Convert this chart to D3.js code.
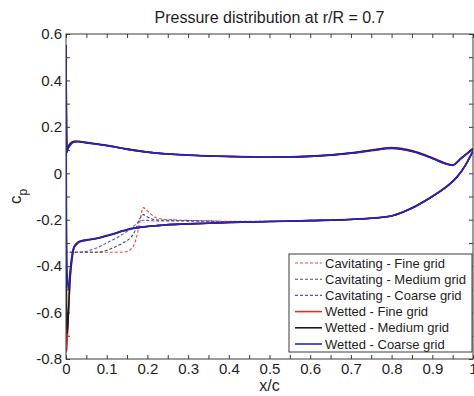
<!DOCTYPE html>
<html>
<head>
<meta charset="utf-8">
<script src="https://cdn.jsdelivr.net/npm/d3@7"></script>
<style>
  body { margin: 0; background: #fff; }
  svg { display: block; font-family: "Liberation Sans", Arial, Helvetica, sans-serif; }
</style>
</head>
<body>
<svg id="chart" width="474" height="396"></svg>
<script>
// Chordwise stations (x/c) for the pressure side and suction side
const xUpper = [0, 0.002, 0.005, 0.01, 0.015, 0.02, 0.03, 0.05, 0.08, 0.1, 0.15, 0.2, 0.25, 0.3,
                0.4, 0.5, 0.6, 0.7, 0.75, 0.8, 0.85, 0.9, 0.93, 0.95, 0.97, 1.0];
const xLower = [0, 0.001, 0.003, 0.006, 0.01, 0.015, 0.02, 0.03, 0.04, 0.05, 0.06, 0.08, 0.1, 0.12,
                0.14, 0.15, 0.16, 0.17, 0.18, 0.19, 0.2, 0.21, 0.22, 0.24, 0.27, 0.3, 0.35, 0.4,
                0.5, 0.6, 0.7, 0.75, 0.8, 0.83, 0.86, 0.9, 0.93, 0.96, 0.98, 1.0];

// Pressure side cp per grid (same for wetted and cavitating runs)
const upperFine   = [0.55, 0.1, 0.115, 0.128, 0.135, 0.138, 0.138, 0.133, 0.126, 0.121, 0.105, 0.092, 0.084, 0.079,
                     0.073, 0.07, 0.074, 0.088, 0.1, 0.111, 0.098, 0.067, 0.045, 0.036, 0.064, 0.107];
const upperMedium = [0.55, 0.095, 0.11, 0.125, 0.133, 0.137, 0.137, 0.132, 0.125, 0.12, 0.104, 0.091, 0.083, 0.078,
                     0.072, 0.069, 0.073, 0.087, 0.099, 0.109, 0.096, 0.065, 0.043, 0.035, 0.063, 0.106];
const upperCoarse = [0.55, 0.09, 0.105, 0.12, 0.13, 0.135, 0.136, 0.131, 0.124, 0.119, 0.103, 0.091, 0.083, 0.078,
                     0.072, 0.069, 0.073, 0.086, 0.097, 0.107, 0.094, 0.064, 0.042, 0.034, 0.062, 0.105];

// Suction side cp, cavitating runs
const cavFineLower   = [0.55, -0.34, -0.34, -0.34, -0.34, -0.34, -0.34, -0.34, -0.34, -0.34, -0.34, -0.34, -0.34, -0.34,
                        -0.34, -0.337, -0.326, -0.296, -0.222, -0.148, -0.162, -0.178, -0.19, -0.198, -0.201, -0.203, -0.205, -0.207,
                        -0.207, -0.204, -0.199, -0.194, -0.184, -0.166, -0.142, -0.1, -0.065, -0.018, 0.03, 0.095];
const cavMediumLower = [0.55, -0.34, -0.34, -0.34, -0.34, -0.34, -0.34, -0.34, -0.34, -0.34, -0.34, -0.34, -0.332, -0.318,
                        -0.3, -0.29, -0.275, -0.247, -0.2, -0.178, -0.188, -0.196, -0.2, -0.202, -0.203, -0.204, -0.206, -0.208,
                        -0.208, -0.204, -0.199, -0.194, -0.184, -0.166, -0.142, -0.1, -0.065, -0.018, 0.03, 0.095];
const cavCoarseLower = [0.55, -0.34, -0.34, -0.34, -0.34, -0.34, -0.34, -0.34, -0.339, -0.336, -0.331, -0.318, -0.3, -0.282,
                        -0.262, -0.25, -0.237, -0.222, -0.208, -0.202, -0.203, -0.204, -0.205, -0.205, -0.205, -0.206, -0.207, -0.209,
                        -0.208, -0.204, -0.199, -0.194, -0.184, -0.166, -0.142, -0.1, -0.065, -0.018, 0.03, 0.095];

// Suction side cp, wetted runs
const wetFineLower   = [0.55, -0.77, -0.72, -0.6, -0.46, -0.37, -0.32, -0.3, -0.292, -0.289, -0.286, -0.28, -0.27, -0.26,
                        -0.249, -0.244, -0.24, -0.237, -0.234, -0.231, -0.229, -0.227, -0.226, -0.223, -0.22, -0.218, -0.215, -0.212,
                        -0.208, -0.203, -0.198, -0.193, -0.183, -0.165, -0.14, -0.099, -0.063, -0.016, 0.032, 0.097];
const wetMediumLower = [0.55, -0.5, -0.69, -0.6, -0.45, -0.36, -0.318, -0.298, -0.291, -0.288, -0.285, -0.279, -0.269, -0.259,
                        -0.248, -0.243, -0.239, -0.236, -0.233, -0.231, -0.229, -0.227, -0.226, -0.223, -0.22, -0.218, -0.215, -0.212,
                        -0.208, -0.204, -0.199, -0.194, -0.184, -0.166, -0.141, -0.1, -0.064, -0.017, 0.031, 0.096];
const wetCoarseLower = [0.55, -0.2, -0.44, -0.5, -0.42, -0.35, -0.315, -0.296, -0.29, -0.287, -0.284, -0.278, -0.268, -0.258,
                        -0.247, -0.242, -0.238, -0.235, -0.232, -0.23, -0.229, -0.227, -0.226, -0.223, -0.22, -0.218, -0.215, -0.212,
                        -0.208, -0.204, -0.199, -0.194, -0.184, -0.166, -0.142, -0.1, -0.065, -0.018, 0.03, 0.095];

const seriesNames = ["Cavitating - Fine grid", "Cavitating - Medium grid", "Cavitating - Coarse grid",
                     "Wetted - Fine grid", "Wetted - Medium grid", "Wetted - Coarse grid"];
const xTickLabels = ["0", "0.1", "0.2", "0.3", "0.4", "0.5", "0.6", "0.7", "0.8", "0.9", "1"];
const yTickLabels = ["-0.8", "-0.6", "-0.4", "-0.2", "0", "0.2", "0.4", "0.6"];

const series = [
  { name: seriesNames[0], upper: upperFine,   lower: cavFineLower,   color: "#ec4646", dash: "3,2", width: 1.1 },
  { name: seriesNames[1], upper: upperMedium, lower: cavMediumLower, color: "#4a4a4a", dash: "3,2", width: 1.1 },
  { name: seriesNames[2], upper: upperCoarse, lower: cavCoarseLower, color: "#5050dc", dash: "3,2", width: 1.1 },
  { name: seriesNames[3], upper: upperFine,   lower: wetFineLower,   color: "#e52b2b", dash: null,  width: 1.6 },
  { name: seriesNames[4], upper: upperMedium, lower: wetMediumLower, color: "#1a1a1a", dash: null,  width: 1.6 },
  { name: seriesNames[5], upper: upperCoarse, lower: wetCoarseLower, color: "#2424cc", dash: null,  width: 1.6 }
];

const svg = d3.select("#chart");
const plot = { left: 66, right: 473, top: 34, bottom: 359 };

const x = d3.scaleLinear().domain([0, 1]).range([plot.left, plot.right]);
const y = d3.scaleLinear().domain([-0.8, 0.6]).range([plot.bottom, plot.top]);

svg.append("defs").append("clipPath").attr("id", "plotClip")
  .append("rect")
  .attr("x", plot.left).attr("y", plot.top)
  .attr("width", plot.right - plot.left).attr("height", plot.bottom - plot.top);

// Tick positions: every 0.05 along x, every 0.1 along y; labels on the round ones
const xTicks = d3.range(0, 21).map(i => i * 0.05);
const yTicks = d3.range(-8, 7).map(i => i / 10);
const xLabelOf = v => {
  const k = Math.round(v * 20);
  return k % 2 === 0 ? xTickLabels[k / 2] : "";
};
const yLabelOf = v => {
  const k = Math.round(v * 10);
  return (k % 2 === 0) ? yTickLabels[(k + 8) / 2] : "";
};

function styleAxis(g) {
  g.select(".domain").remove();
  g.selectAll(".tick line").attr("stroke", "#3a3a3a").attr("stroke-width", 1);
  g.selectAll(".tick text").attr("fill", "#1e1e1e").attr("font-size", 15);
}

svg.append("g").attr("transform", `translate(0,${plot.bottom})`)
  .call(d3.axisBottom(x).tickValues(xTicks).tickFormat(xLabelOf).tickSizeInner(-4).tickSizeOuter(0).tickPadding(4))
  .call(styleAxis);
svg.append("g").attr("transform", `translate(0,${plot.top})`)
  .call(d3.axisTop(x).tickValues(xTicks).tickFormat("").tickSizeInner(-4).tickSizeOuter(0))
  .call(styleAxis);
svg.append("g").attr("transform", `translate(${plot.left},0)`)
  .call(d3.axisLeft(y).tickValues(yTicks).tickFormat(yLabelOf).tickSizeInner(-4).tickSizeOuter(0).tickPadding(4))
  .call(styleAxis);
svg.append("g").attr("transform", `translate(${plot.right},0)`)
  .call(d3.axisRight(y).tickValues(yTicks).tickFormat("").tickSizeInner(-4).tickSizeOuter(0))
  .call(styleAxis);

// Curves
const line = d3.line().x(d => x(d[0])).y(d => y(d[1])).curve(d3.curveMonotoneX);
const curves = svg.append("g").attr("clip-path", "url(#plotClip)");
series.forEach(s => {
  const up = xUpper.map((xv, i) => [xv, s.upper[i]]);
  const lo = xLower.map((xv, i) => [xv, s.lower[i]]);
  [up, lo].forEach(pts => {
    curves.append("path")
      .attr("d", line(pts))
      .attr("fill", "none")
      .attr("stroke", s.color)
      .attr("stroke-width", s.width)
      .attr("stroke-dasharray", s.dash)
      .attr("stroke-linejoin", "round");
  });
});

// Frame
svg.append("rect")
  .attr("x", plot.left).attr("y", plot.top)
  .attr("width", plot.right - plot.left).attr("height", plot.bottom - plot.top)
  .attr("fill", "none").attr("stroke", "#3a3a3a").attr("stroke-width", 1);

// Title and axis labels
const midX = (plot.left + plot.right) / 2;
svg.append("text").attr("x", midX).attr("y", 23).attr("text-anchor", "middle")
  .attr("font-size", 16).attr("fill", "#1e1e1e").text("Pressure distribution at r/R = 0.7");
svg.append("text").attr("x", midX).attr("y", 391).attr("text-anchor", "middle")
  .attr("font-size", 16).attr("fill", "#1e1e1e").text("x/c");
const yl = svg.append("text")
  .attr("transform", `translate(21,${(plot.top + plot.bottom) / 2}) rotate(-90)`)
  .attr("text-anchor", "middle").attr("fill", "#1e1e1e").attr("font-size", 17);
yl.append("tspan").text("c");
yl.append("tspan").attr("font-size", 12).attr("dy", 6).text("p");

// Legend
const legend = svg.append("g");
const lg = { x: 289, y: 254, w: 183, h: 98, row: 16.2 };
legend.append("rect")
  .attr("x", lg.x).attr("y", lg.y).attr("width", lg.w).attr("height", lg.h)
  .attr("fill", "#fff").attr("stroke", "#3a3a3a").attr("stroke-width", 1);
series.forEach((s, i) => {
  const cy = lg.y + 9 + i * lg.row;
  legend.append("line")
    .attr("x1", lg.x + 6).attr("x2", lg.x + 33).attr("y1", cy).attr("y2", cy)
    .attr("stroke", s.color).attr("stroke-width", s.width)
    .attr("stroke-dasharray", s.dash);
  legend.append("text")
    .attr("x", lg.x + 36).attr("y", cy).attr("dy", "0.35em")
    .attr("font-size", 13).attr("fill", "#1e1e1e").text(s.name);
});
</script>
</body>
</html>
